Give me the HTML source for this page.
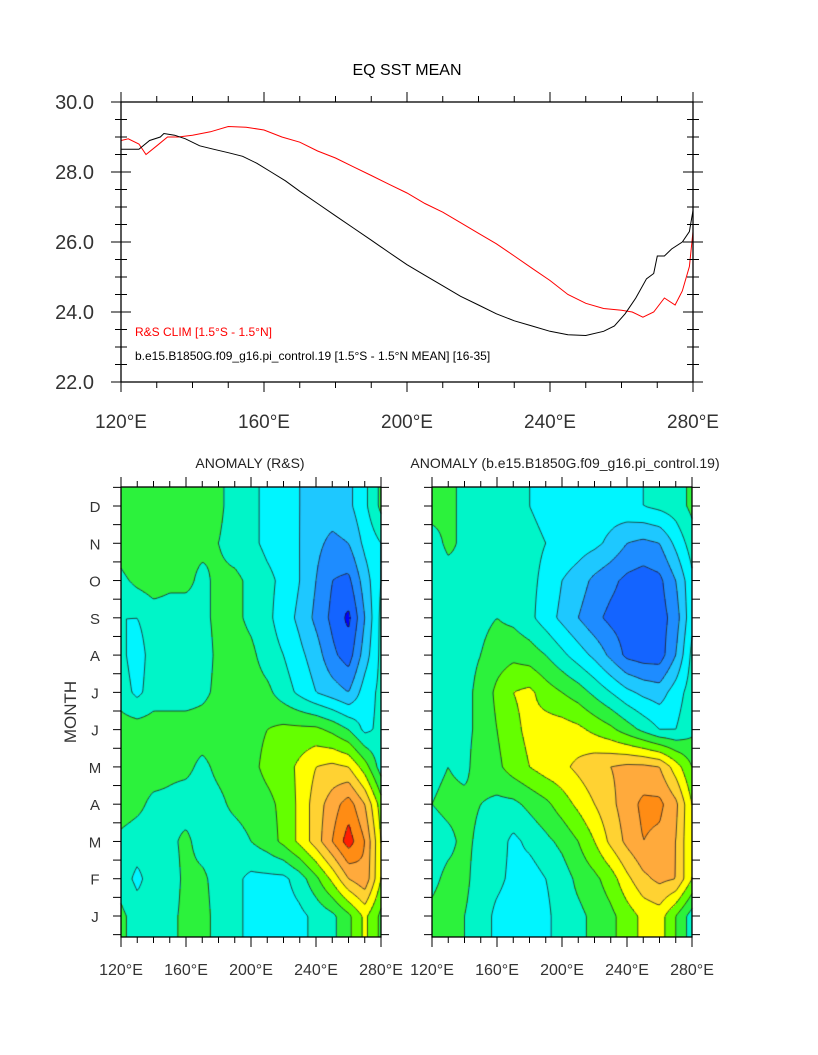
<!DOCTYPE html>
<html><head><meta charset="utf-8">
<style>
html,body{margin:0;padding:0;background:#fff;}
#wrap{position:relative;width:818px;height:1055px;overflow:hidden;font-family:"Liberation Sans",sans-serif;}
canvas,svg{position:absolute;left:0;top:0;}
</style></head>
<body>
<div id="wrap">
<canvas id="fillL" width="818" height="1055"></canvas>
<svg id="svg" width="818" height="1055"></svg>
</div>
<script>
// ---------- top chart data ----------
const rsLon=[120,122,125,127,130,133,136,140,145,150,155,160,165,170,175,180,185,190,195,200,205,210,215,220,225,230,235,240,245,250,255,260,263,266,269,272,275,277,279,280];
const rsSST=[28.9,28.95,28.8,28.5,28.75,29.0,29.0,29.05,29.15,29.3,29.28,29.2,29.0,28.85,28.6,28.4,28.15,27.9,27.65,27.4,27.1,26.85,26.55,26.25,25.95,25.6,25.25,24.9,24.5,24.25,24.1,24.05,24.0,23.85,24.0,24.4,24.2,24.6,25.3,26.3];
const mdLon=[120,125,128,131,132,135,138,142,146,150,154,158,162,166,170,175,180,185,190,195,200,205,210,215,220,225,230,235,240,245,250,255,258,261,264,267,269,270,272,274,277,279,280];
const mdSST=[28.65,28.65,28.9,29.0,29.1,29.05,28.95,28.75,28.65,28.55,28.45,28.25,28.0,27.75,27.45,27.1,26.75,26.4,26.05,25.7,25.35,25.05,24.75,24.45,24.2,23.95,23.75,23.6,23.45,23.35,23.33,23.45,23.6,23.95,24.4,24.95,25.1,25.6,25.6,25.8,26.0,26.3,26.9];
const yTickVals=[22,24,26,28,30];
const yTickLabels=["22.0","24.0","26.0","28.0","30.0"];
const xTickVals=[120,160,200,240,280];
const xTickLabels=["120°E","160°E","200°E","240°E","280°E"];
const monthLabels=["J","F","M","A","M","J","J","A","S","O","N","D"];
const gridLon=[120,130,140,150,160,170,180,190,200,210,220,230,240,250,260,270,280];
// ---------- anomaly fields (row = month Jan..Dec, col = gridLon) ----------
const rsAnom=[
[0.1,-0.2,-0.2,-0.1,0.1,0.2,-0.2,-0.3,-0.5,-0.5,-0.6,-0.5,-0.3,-0.1,0.3,0.9,0.3],
[-0.2,-0.5,-0.2,-0.2,0.1,0.1,-0.2,-0.3,-0.5,-0.5,-0.5,-0.2,0.3,0.9,1.6,1.9,0.8],
[-0.1,-0.2,-0.2,-0.1,0.1,-0.2,-0.2,-0.2,0.0,0.2,0.5,0.9,1.4,2.0,2.6,2.0,0.8],
[0.2,0.1,-0.1,-0.1,-0.2,-0.2,-0.1,0.1,0.2,0.3,0.5,0.9,1.4,1.8,2.2,1.6,0.6],
[0.3,0.2,0.2,0.1,0.1,-0.1,0.1,0.2,0.3,0.5,0.6,0.9,1.2,1.3,1.2,0.6,-0.2],
[0.2,0.2,0.2,0.2,0.2,0.2,0.2,0.2,0.3,0.4,0.5,0.5,0.5,0.3,0.0,-0.5,-0.3],
[-0.2,-0.5,-0.2,-0.2,-0.2,-0.1,0.1,0.2,0.2,0.1,-0.2,-0.5,-0.8,-1.0,-1.2,-0.6,-0.3],
[-0.3,-0.6,-0.2,-0.2,-0.2,-0.2,0.1,0.2,0.1,-0.2,-0.4,-0.7,-1.0,-1.5,-1.8,-1.0,-0.3],
[-0.4,-0.4,-0.2,-0.2,-0.2,-0.1,0.1,0.1,-0.1,-0.3,-0.6,-0.9,-1.3,-1.7,-2.1,-1.2,-0.3],
[-0.1,0.1,0.2,0.1,0.1,-0.1,0.1,0.1,-0.1,-0.3,-0.5,-0.8,-1.2,-1.6,-1.7,-1.0,-0.4],
[0.2,0.4,0.2,0.2,0.1,0.1,0.0,-0.2,-0.3,-0.5,-0.6,-0.8,-1.1,-1.3,-1.2,-0.7,-0.4],
[0.2,0.2,0.0,0.1,0.2,0.1,0.1,-0.2,-0.3,-0.5,-0.6,-0.8,-1.0,-1.0,-0.9,-0.5,0.1]];
const mdAnom=[
[0.1,0.2,0.0,-0.2,-0.5,-0.6,-0.6,-0.5,-0.2,-0.1,0.1,0.3,0.6,0.9,1.0,0.4,-0.2],
[-0.1,0.1,0.1,-0.2,-0.3,-0.5,-0.6,-0.4,-0.2,0.1,0.3,0.6,1.1,1.5,1.7,1.6,0.8],
[-0.2,-0.1,0.1,-0.1,-0.2,-0.5,-0.3,-0.1,0.1,0.4,0.8,1.3,1.7,2.0,1.9,1.6,0.8],
[0.0,0.1,0.1,0.0,-0.1,-0.1,0.1,0.3,0.6,0.9,1.2,1.5,1.8,2.1,2.1,1.7,0.8],
[-0.1,0.0,-0.1,0.2,0.3,0.6,0.8,1.0,1.1,1.3,1.5,1.6,1.7,1.7,1.6,1.0,0.4],
[-0.2,-0.1,-0.1,0.1,0.4,0.7,0.9,1.0,1.0,0.9,0.7,0.5,0.2,-0.1,-0.4,-0.4,-0.1],
[-0.3,-0.2,-0.1,0.1,0.5,0.8,0.9,0.6,0.4,0.2,-0.1,-0.4,-0.7,-0.9,-1.0,-0.6,-0.2],
[-0.3,-0.2,-0.1,0.0,0.2,0.3,0.2,0.0,-0.3,-0.6,-0.9,-1.3,-1.7,-1.8,-1.8,-1.2,-0.3],
[-0.3,-0.2,-0.2,-0.1,0.0,-0.1,-0.3,-0.6,-0.9,-1.2,-1.5,-1.7,-1.8,-1.8,-1.8,-1.4,-0.5],
[-0.3,-0.2,-0.1,-0.1,-0.1,-0.2,-0.3,-0.5,-0.8,-1.0,-1.3,-1.5,-1.7,-1.8,-1.7,-1.2,-0.5],
[-0.2,0.1,-0.1,-0.1,-0.1,-0.2,-0.3,-0.4,-0.5,-0.6,-0.7,-0.9,-1.2,-1.3,-1.2,-0.7,-0.2],
[0.2,0.1,-0.1,-0.1,-0.1,-0.2,-0.4,-0.5,-0.5,-0.6,-0.6,-0.6,-0.5,-0.4,-0.3,-0.2,0.1]];
const levels=[-2.0,-1.6,-1.2,-0.8,-0.4,0,0.4,0.8,1.2,1.6,2.0,2.4];
const levelColors=['#0000ff','#1464ff','#1e8cff','#1ec8ff','#00f5ff','#00f5c8','#2cf23c','#64ff00','#ffff00','#ffd232','#ffaa3c','#ff8c14','#ff1e00'];

const NS="http://www.w3.org/2000/svg";
const svgEl=document.getElementById('svg');
function mk(tag,attrs,parent){const e=document.createElementNS(NS,tag);for(const k in attrs)e.setAttribute(k,attrs[k]);(parent||svgEl).appendChild(e);return e;}
function txt(s,x,y,size,anchor,fill,parent){const t=mk('text',{x:x,y:y,'font-size':size,'text-anchor':anchor||'middle',fill:fill||'#000','font-family':'Liberation Sans, sans-serif'},parent);t.textContent=s;return t;}

// ---------- top chart ----------
const TB={l:121,r:693,t:102,b:382};
const tx=v=>TB.l+(v-120)/(160)*(TB.r-TB.l);
const ty=v=>TB.b-(v-22)/8*(TB.b-TB.t);
const topG=mk('g',{});


const t1=txt('EQ SST MEAN',407,75,16,'middle','#000',topG);


function polyline(xs,ys,col,name){
  let d='';for(let i=0;i<xs.length;i++)d+=(i?'L':'M')+tx(xs[i]).toFixed(1)+','+ty(ys[i]).toFixed(1);
  const p=mk('path',{d:d,fill:'none',stroke:col,'stroke-width':1},topG);
  
  
}
polyline(rsLon,rsSST,'#ff0000','rs-clim-line');
polyline(mdLon,mdSST,'#000','model-line');
const fr=mk('rect',{x:TB.l,y:TB.t,width:TB.r-TB.l,height:TB.b-TB.t,fill:'none',stroke:'#000','stroke-width':1.3},topG);


for(let v=120;v<=280;v+=10){const maj=(v%40===0);const L=maj?10:6;const x=tx(v);
  mk('line',{x1:x,y1:TB.t,x2:x,y2:TB.t-L,stroke:'#000'},topG);
  mk('line',{x1:x,y1:TB.b,x2:x,y2:TB.b+L,stroke:'#000'},topG);}
for(let v=22;v<=30;v+=0.5){const maj=(v%2===0);const L=maj?10:6;const y=ty(v);
  mk('line',{x1:TB.l+L,y1:y,x2:TB.l-L,y2:y,stroke:'#000'},topG);
  mk('line',{x1:TB.r-L,y1:y,x2:TB.r+L,y2:y,stroke:'#000'},topG);}
yTickVals.forEach((v,i)=>{const e=txt(yTickLabels[i],TB.l-27,ty(v)+7,20,'end','#333',topG);
  
  });
xTickVals.forEach((v,i)=>{const e=txt(xTickLabels[i],tx(v),428,19,'middle','#333',topG);
  
  });
const lg1=txt('R&S CLIM  [1.5°S - 1.5°N]',135,336,12,'start','#ff0000',topG);


const lg2=txt('b.e15.B1850G.f09_g16.pi_control.19  [1.5°S - 1.5°N MEAN]  [16-35]',135,360,12,'start','#000',topG);



// ---------- anomaly panels ----------
const PB={t:487,b:937};
const monthY=m=>916-m*(916-506)/11;
function sample(field,lon,m){
  let fi=(lon-120)/10; fi=Math.max(0,Math.min(16,fi));
  let fm=Math.max(0,Math.min(11,m));
  const i0=Math.min(15,Math.floor(fi)),j0=Math.min(10,Math.floor(fm));
  const a=fi-i0,b=fm-j0;
  return field[j0][i0]*(1-a)*(1-b)+field[j0][i0+1]*a*(1-b)+field[j0+1][i0]*(1-a)*b+field[j0+1][i0+1]*a*b;
}
function colorFor(v){let k=0;while(k<levels.length&&v>=levels[k])k++;return levelColors[k];}
const ctx=document.getElementById('fillL').getContext('2d');
function panel(field,L,R,name,title,titleX){
  const g=mk('g',{});
  
  
  const lx=v=>L+(v-120)/160*(R-L);
  const step=2;
  const nx=Math.ceil((R-L)/step),ny=Math.ceil((PB.b-PB.t)/step);
  const grid=[];
  for(let j=0;j<=ny;j++){grid.push([]);for(let i=0;i<=nx;i++){
    const px=L+i*step,py=PB.t+j*step;
    const lon=120+(px-L)/(R-L)*160;
    const m=(916-py)/((916-506)/11);
    grid[j].push(sample(field,lon,m));}}
  for(let j=0;j<ny;j++)for(let i=0;i<nx;i++){
    const v=(grid[j][i]+grid[j][i+1]+grid[j+1][i]+grid[j+1][i+1])/4;
    ctx.fillStyle=colorFor(v);
    ctx.fillRect(L+i*step,PB.t+j*step,Math.min(step,R-(L+i*step)),Math.min(step,PB.b-(PB.t+j*step)));}
  ctx.strokeStyle='#222';ctx.lineWidth=0.8;ctx.beginPath();
  levels.forEach(lv=>{
    for(let j=0;j<ny;j++)for(let i=0;i<nx;i++){
      const c=[grid[j][i],grid[j][i+1],grid[j+1][i+1],grid[j+1][i]];
      const px=[L+i*step,L+(i+1)*step,L+(i+1)*step,L+i*step];
      const py=[PB.t+j*step,PB.t+j*step,PB.t+(j+1)*step,PB.t+(j+1)*step];
      const pts=[];
      for(let e=0;e<4;e++){const a=c[e],b=c[(e+1)%4];
        if((a<lv)!==(b<lv)){const t=(lv-a)/(b-a);pts.push([px[e]+t*(px[(e+1)%4]-px[e]),py[e]+t*(py[(e+1)%4]-py[e])]);}}
      for(let k=0;k+1<pts.length;k+=2){
        const x1=Math.min(R,pts[k][0]),x2=Math.min(R,pts[k+1][0]),y1=Math.min(PB.b,pts[k][1]),y2=Math.min(PB.b,pts[k+1][1]);
        ctx.moveTo(x1,y1);ctx.lineTo(x2,y2);}
    }});
  ctx.stroke();
  const f=mk('rect',{x:L,y:PB.t,width:R-L,height:PB.b-PB.t,fill:'none',stroke:'#000','stroke-width':1.3},g);
  
  
  for(let v=120;v<=280;v+=10){const maj=(v%40===0);const Ln=maj?10:6;const x=lx(v);
    mk('line',{x1:x,y1:PB.t,x2:x,y2:PB.t-Ln,stroke:'#000'},g);
    mk('line',{x1:x,y1:PB.b,x2:x,y2:PB.b+Ln,stroke:'#000'},g);}
  for(let m=-0.5;m<=11.5;m+=0.5){const y=monthY(m);if(y<PB.t-1||y>PB.b+1)continue;
    mk('line',{x1:L,y1:y,x2:L-8,y2:y,stroke:'#000'},g);
    mk('line',{x1:R,y1:y,x2:R+8,y2:y,stroke:'#000'},g);}
  xTickVals.forEach((v,i)=>{const e=txt(xTickLabels[i],lx(v),975,16,'middle','#333',g);
    
    });
  const tt=txt(title,titleX,468,14,'middle','#222',g);
  
  
}
panel(rsAnom,121,381,'anomaly-rs-panel','ANOMALY (R&S)',250);
panel(mdAnom,432,692,'anomaly-model-panel','ANOMALY (b.e15.B1850G.f09_g16.pi_control.19)',565);
monthLabels.forEach((s,m)=>{const e=txt(s,95,monthY(m)+6,15,'middle','#333');
  
  });
const yt=txt('MONTH',0,0,17,'middle','#333');
yt.setAttribute('transform','translate(76,712) rotate(-90)');


</script>
</body></html>
